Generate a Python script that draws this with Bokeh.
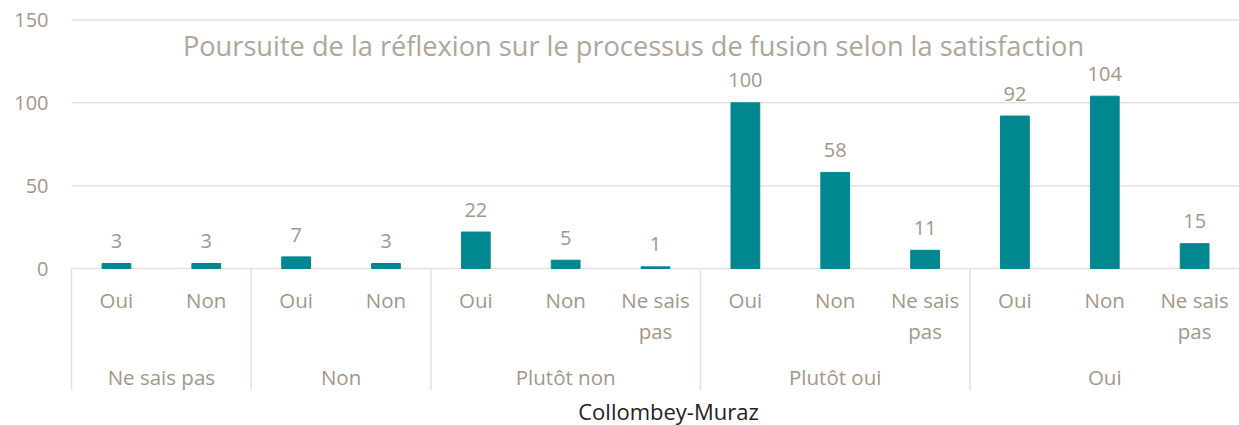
from bokeh.plotting import figure
from bokeh.models import Range1d, ColumnDataSource
from bokeh.core.properties import value
from bokeh.embed import file_html
from bokeh.resources import INLINE

# ---- data ----
groups = ["Ne sais pas", "Non", "Plutôt non", "Plutôt oui", "Oui"]
answers = [
    ["Oui", "Non"],
    ["Oui", "Non"],
    ["Oui", "Non", "Ne sais pas"],
    ["Oui", "Non", "Ne sais pas"],
    ["Oui", "Non", "Ne sais pas"],
]
counts = [3, 3, 7, 3, 22, 5, 1, 100, 58, 11, 92, 104, 15]
y_ticks = [0, 50, 100, 150]
title = "Poursuite de la réflexion sur le processus de fusion selon la satisfaction"
x_title = "Collombey-Muraz"

# ---- layout constants (picture pixels) ----
W, H = 1239, 425
OX, OY = 0, 0      # figure origin in picture pixels
PX0 = 71.0         # left edge of plot area
SLOT = 89.85       # width of one category slot
Y0 = 268.0         # baseline (value 0)
PPU = 1.657        # pixels per unit value

def ux(px):
    return (px - PX0) / SLOT

def uy(py):
    return (Y0 - py) / PPU

FONT = value("Open Sans")
TXT = "#A39689"
GRID = "#E6E1DC"
BAR = "#00878F"

p = figure(width=W, height=H, output_backend="svg", toolbar_location=None,
           x_range=Range1d(ux(OX), ux(OX + W)), y_range=Range1d(uy(OY + H), uy(OY)),
           min_border=0, outline_line_color=None)
p.axis.visible = False
p.grid.visible = False
p.background_fill_color = "white"
p.border_fill_color = "white"

n = len(counts)

# gridlines
p.segment(x0=[0] * len(y_ticks), x1=[n] * len(y_ticks), y0=y_ticks, y1=y_ticks,
          line_color=GRID, line_width=1.5)

# group separators
bounds = [0]
for a in answers:
    bounds.append(bounds[-1] + len(a))
p.segment(x0=bounds, x1=bounds, y0=[0] * len(bounds), y1=[uy(390)] * len(bounds),
          line_color=GRID, line_width=1.5)

# bars
xs = [i + 0.5 for i in range(n)]
src = ColumnDataSource(dict(x=xs, top=counts, lab=[str(c) for c in counts],
                            ly=[c + 13.5 for c in counts]))
p.vbar(x="x", top="top", bottom=0, width=0.32, source=src, fill_color=BAR, line_color=BAR)
p.text(x="x", y="ly", text="lab", source=src, text_font=FONT, text_font_size="20px",
       text_color=TXT, text_align="center", text_baseline="middle")

# y tick labels
p.text(x=[ux(48)] * len(y_ticks), y=y_ticks, text=[str(t) for t in y_ticks],
       text_font=FONT, text_font_size="20px", text_color=TXT,
       text_align="right", text_baseline="middle")

# level-1 labels
l1x, l1y, l1t = [], [], []
i = 0
for a in answers:
    for lab in a:
        if lab == "Ne sais pas":
            l1x += [i + 0.5, i + 0.5]
            l1y += [uy(299), uy(330)]
            l1t += ["Ne sais", "pas"]
        else:
            l1x.append(i + 0.5)
            l1y.append(uy(299))
            l1t.append(lab)
        i += 1
p.text(x=l1x, y=l1y, text=l1t, text_font=FONT, text_font_size="20.5px", text_color=TXT,
       text_align="center", text_baseline="middle")

# group labels
gx = [(bounds[k] + bounds[k + 1]) / 2 for k in range(len(groups))]
p.text(x=gx, y=[uy(376)] * len(groups), text=groups, text_font=FONT, text_font_size="20.5px",
       text_color=TXT, text_align="center", text_baseline="middle")

# title
p.text(x=[ux(633)], y=[uy(45)], text=[title], text_font=FONT, text_font_size="27.2px",
       text_color="#B0A59B", text_align="center", text_baseline="middle")

# axis title
p.text(x=[ux(668)], y=[uy(410)], text=[x_title], text_font=FONT, text_font_size="22px",
       text_color="#222222", text_align="center", text_baseline="middle")

open("out.html", "w").write(file_html(p, INLINE))
